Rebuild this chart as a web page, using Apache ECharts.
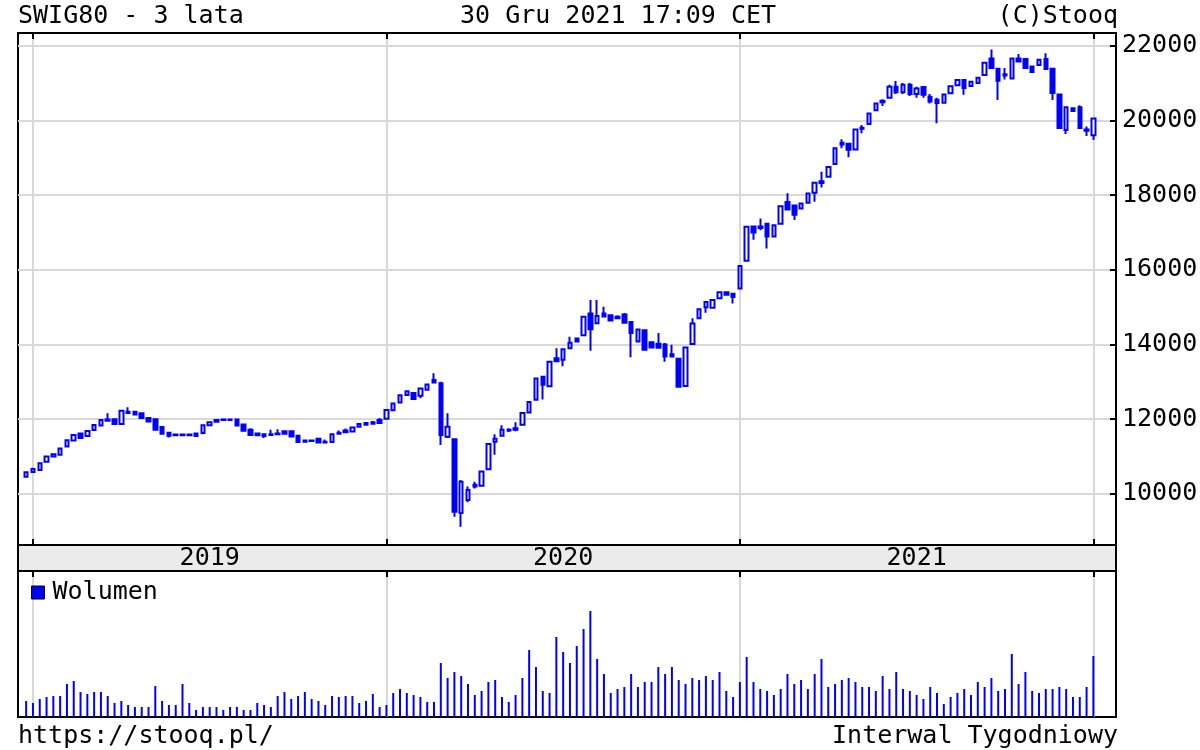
<!DOCTYPE html>
<html><head><meta charset="utf-8">
<script src="https://cdn.jsdelivr.net/npm/echarts@6/dist/echarts.min.js"></script>
<style>html,body{margin:0;padding:0;background:#fff}#c{width:1200px;height:750px}</style>
</head><body><div id="c"></div>
<script>
// Weekly SWIG80 candles, week index 0 = week of 24 Dec 2018
const opens = [10460,10590,10640,10860,11000,11050,11270,11430,11620,11550,11710,11830,11990,12000,11870,12200,12200,12160,12030,12000,
11790,11640,11570,11590,11570,11620,11630,11840,11930,11980,11990,11990,11860,11720,11620,11600,11580,11600,11680,11680,
11560,11400,11430,11480,11380,11390,11610,11650,11670,11800,11850,11880,11980,12010,12240,12450,12650,12700,12630,12790,
13050,12960,11530,11465,9490,9840,10200,10220,10660,11400,11560,11720,11720,11850,12180,12520,13140,12880,13630,13590,
13900,14160,14250,14830,14570,14830,14780,14700,14800,14600,14080,14380,14060,14020,14000,13740,13620,12890,14010,14700,
15000,14980,15240,15400,15360,15500,16240,17160,17120,17230,16890,17230,17810,17720,17640,17790,18060,18320,18490,18830,
19350,19370,19220,19770,19900,20270,20480,20600,20900,20750,20950,20700,20890,20630,20550,20470,20720,20940,21080,20920,
21000,21210,21650,21380,21200,21120,21650,21640,21440,21480,21640,21380,20690,19740,20320,20350,19720,19600];
const closes = [10580,10670,10820,11000,11060,11220,11440,11580,11500,11685,11845,11980,11960,11870,12230,12170,12130,12030,11940,11720,
11610,11560,11590,11570,11590,11550,11840,11920,11980,11990,11980,11830,11690,11580,11570,11550,11600,11620,11610,11540,
11390,11430,11420,11380,11400,11600,11640,11700,11780,11870,11900,11920,11900,12250,12420,12640,12750,12540,12820,12930,
12980,11580,11800,9525,10330,10110,10250,10600,11340,11480,11720,11700,11760,12170,12460,13090,12920,13540,13550,13870,
14050,14080,14740,14410,14760,14750,14640,14740,14580,14310,14400,13860,13920,13910,13680,13680,12870,13920,14560,14940,
15140,15190,15400,15330,15270,16100,17150,17000,17160,16890,17190,17700,17610,17470,17770,18040,18330,18370,18750,19250,
19400,19210,19750,19800,20180,20450,20520,20900,20750,20950,20700,20850,20680,20500,20460,20690,20910,21080,20860,21030,
21140,21540,21400,21060,21230,21650,21570,21400,21290,21620,21370,20730,19790,20350,20250,19790,19750,20050];
const lows = [10440,10560,10620,10850,10990,11040,11260,11420,11490,11540,11700,11820,11940,11860,11860,12150,12120,12020,11930,11700,
11600,11510,11560,11550,11560,11530,11600,11820,11920,11960,11960,11820,11680,11550,11550,11500,11570,11580,11600,11530,
11370,11380,11400,11370,11360,11370,11600,11640,11660,11790,11830,11850,11890,12000,12220,12440,12640,12520,12560,12770,
12970,11310,11500,9390,9125,9780,10150,10200,10640,11050,11540,11660,11680,11840,12170,12500,12530,12860,13530,13420,
13890,14060,14230,13830,14550,14730,14620,14680,14560,13660,14060,13840,13890,13890,13540,13660,12850,12870,14000,14690,
14850,14960,15220,15310,15100,15480,16220,16800,17060,16570,16870,17210,17590,17330,17620,17780,17820,18200,18470,18810,
19250,19010,19200,19650,19880,20250,20380,20580,20700,20700,20650,20600,20600,20450,19920,20450,20700,20920,20680,20900,
20990,21190,21380,20540,21090,21100,21550,21380,21270,21460,21350,20540,19770,19630,20230,19770,19580,19470];
const highs = [10600,10700,10840,11010,11080,11230,11450,11590,11640,11690,11850,11990,12160,12010,12240,12320,12210,12170,12040,12020,
11800,11650,11610,11620,11610,11640,11850,11940,12000,12010,12010,12000,11870,11760,11640,11620,11720,11730,11700,11700,
11580,11460,11450,11490,11460,11610,11700,11750,11790,11890,11920,11950,12030,12270,12430,12660,12770,12720,12840,12950,
13230,13000,12160,11480,10375,10200,10330,10610,11350,11600,11840,11760,11920,12180,12480,13100,13150,13550,13900,13880,
14210,14180,14750,15190,15190,15010,14800,14780,14840,14620,14420,14410,14080,14310,14040,13990,13640,13930,14700,14950,
15160,15200,15420,15420,15380,16110,17160,17180,17370,17250,17200,17710,18045,17740,17780,18050,18340,18620,18760,19260,
19490,19390,19760,19870,20190,20460,20560,20950,21050,21000,21000,20900,20900,20700,20600,20710,20920,21100,21100,21040,
21150,21550,21895,21400,21400,21660,21770,21660,21460,21640,21790,21400,20710,20370,20340,20400,19830,20060];
const volumes = [16,14,18,20,21,21,33,36,25,23,25,25,21,14,16,12,10,10,10,31,
16,12,12,33,14,7,10,10,10,7,10,10,7,7,14,12,10,21,25,18,
21,25,18,16,12,21,20,21,21,14,16,23,10,12,24,28,24,22,20,15,
15,54,39,45,41,33,22,26,35,37,20,15,22,39,67,50,26,24,80,65,
54,71,88,106,58,43,24,28,30,43,30,35,35,50,43,50,37,33,39,37,
41,37,45,26,20,35,60,35,28,26,22,28,43,33,37,28,43,58,30,33,
37,39,35,30,30,26,41,28,45,28,26,22,18,30,24,13,20,24,28,22,
35,30,39,26,28,63,33,45,26,24,28,28,30,28,20,20,30,61];
const priceTicks = [10000,12000,14000,16000,18000,20000,22000];
const years = ['2019','2020','2021'];
const yearStartWeeks = [1,53,105,157];

const FONT = 'DejaVu Sans Mono';
const BLUE = '#0000ff';
const GRIDC = '#d9d9d9';
const XMIN = -1.2, XMAX = 160.33;

const candleData = opens.map((o,i)=>[i,o,closes[i],lows[i],highs[i]]);
const volData = volumes.map((v,i)=>[i,v]);
const yearLabelData = years.map((y,k)=>[(yearStartWeeks[k]+yearStartWeeks[k+1])/2,0.5,y]);

const chart = echarts.init(document.getElementById('c'), null, {renderer:'canvas'});
const xBase = {type:'value', min:XMIN, max:XMAX, axisLine:{show:false, onZero:false}, axisLabel:{show:false}};
const tickStyle = {show:true, inside:true, length:6, lineStyle:{color:'#000', width:2}, customValues:yearStartWeeks};
const gridBase = {left:18, right:84, show:true, borderColor:'#000', borderWidth:2, containLabel:false, outerBoundsMode:'none'};
chart.setOption({
  animation:false,
  backgroundColor:'#fff',
  grid:[
    Object.assign({}, gridBase, {top:33, height:512, backgroundColor:'#fff'}),
    Object.assign({}, gridBase, {top:545, height:26, backgroundColor:'#ebebeb'}),
    Object.assign({}, gridBase, {top:571, height:146, backgroundColor:'#fff'})
  ],
  xAxis:[
    Object.assign({}, xBase, {gridIndex:0, position:'bottom', axisTick:tickStyle, axisLabel:{show:false, customValues:yearStartWeeks}, splitLine:{show:true, lineStyle:{color:GRIDC, width:2}}}),
    Object.assign({}, xBase, {gridIndex:0, position:'top', axisTick:tickStyle, axisLabel:{show:false, customValues:yearStartWeeks}, splitLine:{show:false}}),
    Object.assign({}, xBase, {gridIndex:1, axisTick:{show:false}, splitLine:{show:false}}),
    Object.assign({}, xBase, {gridIndex:2, position:'top', axisTick:tickStyle, axisLabel:{show:false, customValues:yearStartWeeks}, splitLine:{show:true, lineStyle:{color:GRIDC, width:2}}})
  ],
  yAxis:[
    {type:'value', gridIndex:0, position:'right', min:8635, max:22335,
     axisLine:{show:false, onZero:false},
     axisTick:{show:true, inside:true, length:6, lineStyle:{color:'#000', width:2}, customValues:priceTicks},
     axisLabel:{show:true, customValues:priceTicks, margin:6, color:'#000', fontFamily:FONT, fontSize:25, formatter:v=>String(v)},
     splitLine:{show:true, lineStyle:{color:GRIDC, width:2}}},
    {type:'value', gridIndex:1, min:0, max:1, show:false},
    {type:'value', gridIndex:2, min:0, max:146, show:false}
  ],
  legend:{data:['Wolumen'], left:31, top:580, padding:0, icon:'rect', itemWidth:13, itemHeight:13,
    itemStyle:{borderColor:'#000', borderWidth:1},
    textStyle:{fontFamily:FONT, fontSize:25, color:'#000', padding:[0,0,0,3]}},
  graphic:[
    {type:'text', x:18, y:16, style:{text:'SWIG80 - 3 lata', font:'25px "DejaVu Sans Mono"', fill:'#000', align:'left', verticalAlign:'middle'}},
    {type:'text', x:460, y:16, style:{text:'30 Gru 2021 17:09 CET', font:'25px "DejaVu Sans Mono"', fill:'#000', align:'left', verticalAlign:'middle'}},
    {type:'text', x:1118, y:16, style:{text:'(C)Stooq', font:'25px "DejaVu Sans Mono"', fill:'#000', align:'right', verticalAlign:'middle'}},
    {type:'text', x:18, y:736, style:{text:'https://stooq.pl/', font:'25px "DejaVu Sans Mono"', fill:'#000', align:'left', verticalAlign:'middle'}},
    {type:'text', x:1118, y:736, style:{text:'Interwal Tygodniowy', font:'25px "DejaVu Sans Mono"', fill:'#000', align:'right', verticalAlign:'middle'}}
  ],
  series:[
    {type:'candlestick', name:'SWIG80', xAxisIndex:0, yAxisIndex:0, data:candleData, encode:{x:0, y:[1,2,3,4]},
     barWidth:4, large:false, progressive:0,
     itemStyle:{color:'#fff', color0:BLUE, borderColor:BLUE, borderColor0:BLUE, borderWidth:2}},
    {type:'bar', name:'Wolumen', xAxisIndex:3, yAxisIndex:2, data:volData, barWidth:2, large:false,
     itemStyle:{color:BLUE}},
    {type:'scatter', name:'years', xAxisIndex:2, yAxisIndex:1, data:yearLabelData, symbolSize:0, silent:true,
     itemStyle:{opacity:1},
     label:{show:true, position:'inside', formatter:p=>p.value[2], fontFamily:FONT, fontSize:25, color:'#000', opacity:1, textBorderWidth:0}}
  ]
});
</script>
</body></html>
